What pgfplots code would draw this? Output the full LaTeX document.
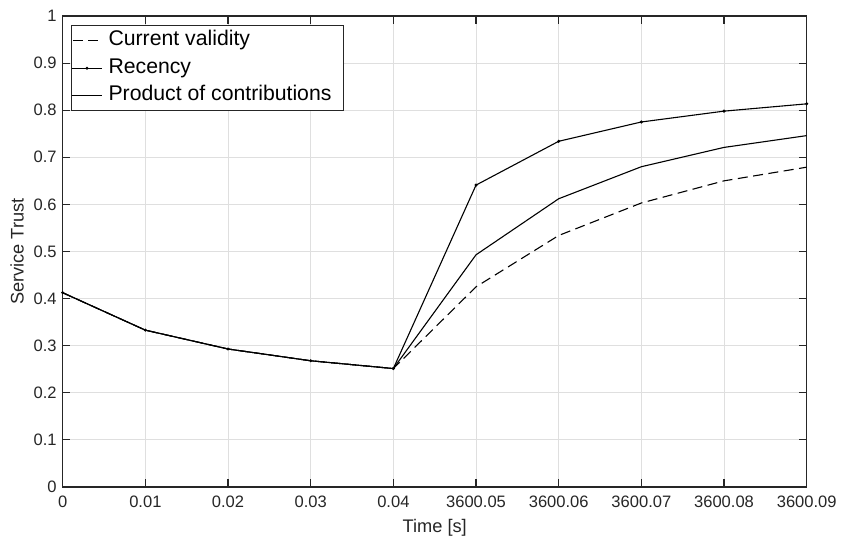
\documentclass[border=0pt]{standalone}
\usepackage{fontspec}
\setmainfont{Liberation Sans}
\usepackage{pgfplots}
\pgfplotsset{compat=1.18}
\definecolor{axgray}{RGB}{38,38,38}
\definecolor{gridgray}{RGB}{223,223,223}
\begin{document}
\begin{tikzpicture}
\begin{axis}[
  scale only axis,
  width=744bp, height=471bp,
  xmin=0, xmax=9, ymin=0, ymax=1,
  xtick={0,1,2,3,4,5,6,7,8,9},
  xticklabels={0,0.01,0.02,0.03,0.04,3600.05,3600.06,3600.07,3600.08,3600.09},
  ytick={0,0.1,0.2,0.3,0.4,0.5,0.6,0.7,0.8,0.9,1},
  yticklabels={0,0.1,0.2,0.3,0.4,0.5,0.6,0.7,0.8,0.9,1},
  grid=major,
  major grid style={gridgray, line width=0.8bp},
  axis line style={axgray, line width=1.1bp},
  tick style={axgray, line width=1.1bp},
  tick align=inside,
  major tick length=7.7bp,
  ticklabel style={font=\fontsize{16.6}{19}\selectfont, text=axgray},
  xticklabel style={yshift=-5bp},
  yticklabel style={xshift=-2.5bp},
  /pgf/number format/assume math mode=true,
  xlabel={Time [s]},
  ylabel={Service Trust},
  label style={font=\fontsize{18.3}{21}\selectfont, text=axgray},
  xlabel style={yshift=-5bp},
  ylabel style={yshift=3bp},
  legend cell align=left,
  legend style={
    at={(rel axis cs:0,1)}, anchor=north west,
    xshift=8.3bp, yshift=-9bp,
    draw=axgray, line width=0.9bp,
    font=\fontsize{21.3}{25}\selectfont,
    inner xsep=0bp, inner ysep=1.5bp,
    column sep=4bp,
    nodes={inner ysep=2.5bp, inner xsep=2bp, text height=16.5bp, text depth=6bp},
  },
  legend image code/.code={
    \draw[#1, mark repeat=2, mark phase=2, dash phase=-1bp] plot coordinates {(0bp,0bp) (15bp,0bp) (30bp,0bp)};
  },
]
\coordinate (o) at (rel axis cs:0,0);
\addplot[black, line width=1.1bp, dash pattern=on 10bp off 5.5bp] coordinates {
(0,0.4125) (1,0.333) (2,0.293) (3,0.268) (4,0.2515) (5,0.425) (6,0.534) (7,0.603) (8,0.650) (9,0.679)};
\addlegendentry{Current validity}
\addplot[black, line width=1.1bp, mark=*, mark size=0.9bp] coordinates {
(0,0.4125) (1,0.333) (2,0.293) (3,0.268) (4,0.2515) (5,0.641) (6,0.734) (7,0.775) (8,0.798) (9,0.8135)};
\addlegendentry{Recency}
\addplot[black, line width=1.1bp] coordinates {
(0,0.4125) (1,0.333) (2,0.293) (3,0.268) (4,0.2515) (5,0.493) (6,0.612) (7,0.680) (8,0.721) (9,0.746)};
\addlegendentry{\makebox[233bp][l]{Product of contributions}}
\end{axis}
\pgfresetboundingbox
\path ([shift={(-62.7bp,-53bp)}]o) rectangle ++(842bp,540bp);
\end{tikzpicture}
\end{document}
